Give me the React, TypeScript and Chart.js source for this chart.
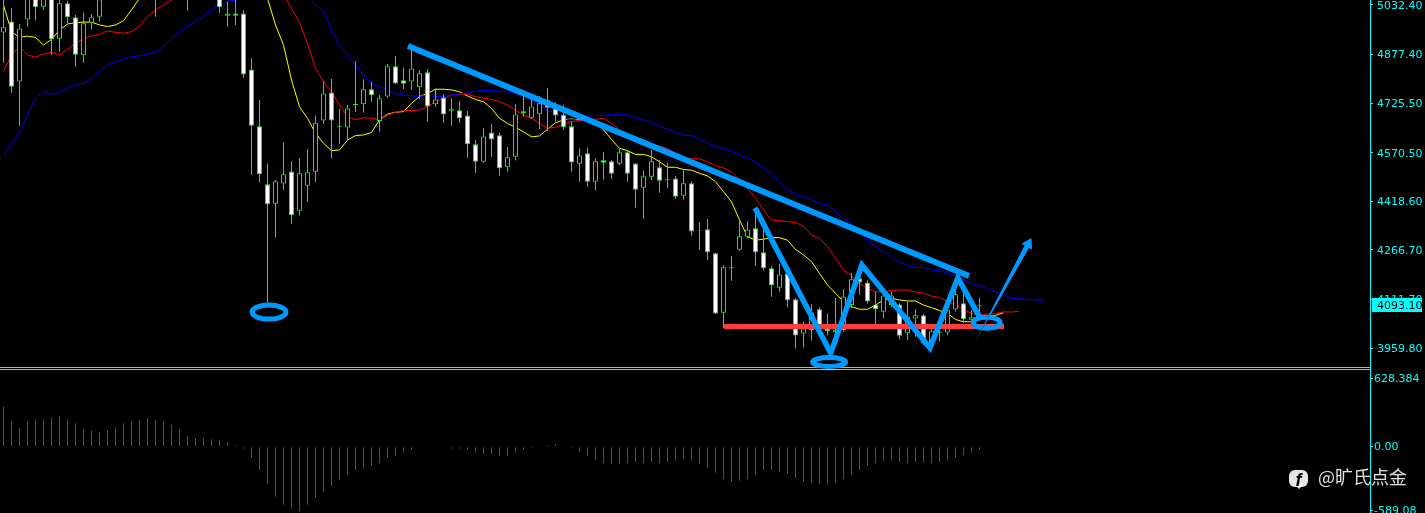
import React, { useEffect, useRef } from "react";
import { Chart, registerables } from "chart.js";

Chart.register(...registerables);

const opens = [4946,4981,4793,4987,5090,5027,5120,4927,5038,4994,4875,4977,4996,5080,5130,5100,5135,5100,5150,5110,5060,5120,5095,5090,5100,5130,5095,5080,4999,5006,5006,4831,4653,4472,4411,4474,4512,4389,4467,4511,4671,4759,4652,4649,4720,4722,4769,4670,4746,4841,4797,4793,4775,4822,4722,4743,4702,4703,4687,4597,4542,4634,4625,4525,4558,4694,4680,4691,4736,4709,4689,4653,4536,4569,4480,4547,4544,4536,4572,4537,4461,4495,4525,4486,4490,4436,4475,4327,4331,4256,4070,4211,4267,4308,4334,4259,4209,4148,4193,4112,4005,4016,4081,4021,4011,4016,4094,4178,4165,4096,4073,4094,4096,4006,4052,4062,3974,4007,4008,4080,4100,4048,4092];
const closes = [4963,4777,4959,5090,5025,5075,4925,5038,4994,4877,4975,4994,5050,5130,5100,5135,5100,5150,5110,5060,5120,5095,5130,5065,5130,5095,5110,5025,5006,4999,4815,4655,4503,4409,4481,4503,4375,4506,4509,4664,4756,4671,4654,4709,4723,4769,4750,4741,4841,4787,4786,4834,4819,4715,4737,4690,4706,4678,4597,4542,4621,4612,4522,4556,4690,4700,4715,4725,4711,4687,4650,4540,4562,4480,4544,4539,4505,4572,4505,4455,4497,4544,4483,4488,4433,4475,4324,4329,4259,4068,4212,4213,4309,4330,4259,4209,4156,4190,4109,3999,4021,4071,4032,4012,4016,4121,4175,4165,4105,4081,4124,4124,3998,4058,4062,3974,4012,4009,4078,4128,4050,4056,4094];
const highs = [5070,5022,4973,5110,5120,5090,5135,5060,5046,5001,5009,5004,5080,5145,5145,5150,5150,5165,5165,5130,5135,5135,5145,5110,5145,5145,5125,5100,5043,5048,5017,4866,4735,4537,4485,4603,4544,4554,4582,4687,4795,4801,4707,4720,4857,4800,4793,4751,4848,4873,4837,4892,4829,4832,4772,4753,4741,4732,4701,4610,4647,4660,4634,4588,4722,4767,4737,4748,4772,4728,4719,4668,4584,4587,4553,4572,4548,4581,4579,4537,4515,4579,4548,4540,4498,4516,4481,4354,4363,4258,4219,4247,4362,4356,4391,4329,4216,4223,4198,4115,4042,4097,4087,4068,4117,4144,4195,4204,4172,4136,4133,4136,4100,4105,4081,4066,4027,4037,4094,4141,4131,4079,4117];
const lows = [4852,4758,4654,4965,4985,5017,4876,4886,4975,4840,4852,4956,4980,5070,5085,5085,5085,5085,5095,4996,5052,5080,5080,5015,5085,5080,5080,5008,4965,4970,4804,4501,4477,4102,4305,4454,4349,4373,4416,4479,4660,4552,4598,4608,4698,4696,4730,4636,4743,4787,4770,4767,4737,4668,4714,4664,4655,4664,4555,4508,4539,4558,4499,4511,4546,4683,4676,4645,4638,4668,4642,4511,4480,4464,4452,4486,4488,4532,4480,4399,4364,4485,4445,4460,4426,4423,4311,4266,4235,4066,4023,4170,4264,4303,4216,4202,4120,4136,4087,3958,3961,3983,4011,4000,4006,4011,4084,4126,4099,4032,4053,4089,3987,3985,3995,3969,3969,3980,4000,4073,4039,4037,4063];

const maFast = [5032,4949,4931,4935,4931,4907,4925,4954,4973,4977,4979,4979,4970,4965,4970,4983,5017,5053,5090,5125,5150,5170,5185,5190,5190,5185,5180,5170,5150,5130,5110,5090,5070,5053,4970,4907,4798,4714,4678,4631,4600,4577,4579,4610,4624,4626,4634,4673,4691,4697,4699,4725,4746,4756,4769,4769,4767,4761,4748,4737,4730,4709,4678,4662,4650,4636,4620,4623,4644,4664,4673,4676,4673,4673,4668,4642,4612,4584,4577,4565,4565,4558,4542,4525,4525,4518,4516,4506,4498,4480,4449,4417,4360,4308,4297,4300,4305,4305,4297,4268,4251,4230,4193,4157,4131,4105,4089,4081,4081,4094,4110,4115,4110,4107,4107,4094,4086,4077,4068,4049,4042,4042,4053,4060,4062,4070];
const maMid = [4824,4876,4902,4876,4869,4879,4885,4876,4894,4912,4928,4936,4941,4951,4947,4944,4949,4967,4996,5017,5032,5048,5060,5070,5080,5090,5100,5110,5120,5130,5135,5130,5115,5095,5080,5064,5022,4977,4912,4834,4793,4761,4720,4683,4673,4680,4678,4673,4688,4697,4702,4702,4704,4714,4730,4741,4751,4754,4753,4746,4741,4737,4730,4720,4704,4688,4678,4662,4647,4650,4660,4668,4671,4673,4675,4678,4662,4642,4626,4612,4602,4595,4591,4584,4569,4553,4553,4551,4542,4530,4523,4510,4485,4460,4428,4391,4360,4358,4355,4352,4341,4313,4303,4277,4240,4204,4185,4162,4146,4136,4136,4139,4141,4141,4135,4131,4122,4118,4105,4094,4081,4068,4063,4066,4068,4073,4072,4075];
const maSlow = [4563,4595,4636,4688,4741,4763,4753,4759,4772,4785,4787,4803,4824,4845,4855,4864,4871,4874,4879,4886,4902,4928,4949,4965,4980,4996,5017,5032,5043,5048,5055,5062,5070,5078,5085,5090,5090,5085,5064,5032,5012,4954,4905,4876,4845,4813,4787,4777,4767,4756,4751,4748,4746,4751,4746,4746,4751,4754,4758,4763,4765,4765,4763,4761,4756,4751,4735,4720,4704,4694,4678,4673,4678,4685,4687,4688,4689,4689,4689,4681,4673,4665,4654,4644,4634,4626,4623,4615,4600,4591,4582,4576,4563,4554,4541,4523,4507,4479,4454,4441,4433,4423,4412,4407,4386,4365,4350,4324,4298,4277,4261,4245,4228,4217,4212,4212,4204,4201,4193,4185,4173,4162,4154,4146,4136,4126,4115,4114,4112,4110,4109];

const macd = [367,238,173,229,253,254,266,284,253,216,161,146,134,152,180,216,229,244,262,244,229,198,161,97,78,77,69,60,41,14,-23,-106,-216,-345,-465,-539,-576,-594,-539,-474,-419,-364,-309,-262,-216,-207,-180,-152,-106,-87,-60,-32,0,0,0,-5,-23,-24,-32,-60,-69,-70,-87,-88,-60,-32,-14,0,14,23,3,-14,-51,-87,-124,-152,-163,-161,-152,-143,-152,-143,-152,-143,-134,-115,-134,-161,-198,-244,-299,-327,-318,-299,-262,-217,-216,-235,-253,-290,-327,-336,-345,-355,-336,-299,-262,-216,-180,-152,-136,-134,-143,-152,-143,-146,-152,-143,-134,-106,-78,-60,-32];

const priceTicks = [5032.4, 4877.4, 4725.5, 4570.5, 4418.6, 4266.7, 4111.7, 3959.8];
const macdTicks = [628.384, 0, -589.08];
const macdTickLabels = ["628.384", "0.00", "-589.08"];
const lastPrice = 4093.1;

const trendLine = [{ x: 50.56, y: 4904 }, { x: 120.69, y: 4185 }];
const zigzag = [
  { x: 93.94, y: 4398 }, { x: 103.4, y: 3944 }, { x: 107.3, y: 4219 },
  { x: 115.8, y: 3960 }, { x: 119.3, y: 4179 }, { x: 122.06, y: 4054 },
];
const supportLine = [{ x: 90.06, y: 4027 }, { x: 125.06, y: 4027 }];
const ellipseCentres = [
  { x: 33.19, y: 4072, rx: 17, ry: 7 },
  { x: 103.2, y: 3916, rx: 16.5, ry: 4.5 },
  { x: 122.9, y: 4039, rx: 13.5, ry: 5.5 },
];
const arrowTail = { x: 121.3, y: 3972 };
const arrowTip = { x: 128.5, y: 4304 };

const W = 1425;
const H = 513;
const AXIS_W = 55;
const PANE_TOP = 369;
const PRICE_MAX = 5048;
const PRICE_MIN = 5048 - 3.127 * PANE_TOP;
const MACD_MAX = (446.5 - PANE_TOP) * 9.22;
const MACD_MIN = (446.5 - H) * 9.22;
const CYAN = "#00ffff";
const GREEN = "#00ff00";
const BLUE = "#0099ff";
const AXIS_FONT = { family: "'DejaVu Sans'", size: 11 };

const overlay = {
  id: "overlay",
  afterDatasetsDraw(chart: any) {
    const { ctx, scales, chartArea } = chart;
    const sx = scales.x;
    const sy = scales.y;
    ctx.save();
    ctx.fillStyle = CYAN;
    ctx.fillRect(0, 367, chartArea.right, 1);
    ctx.fillRect(0, 369, chartArea.right, 1);
    ctx.strokeStyle = BLUE;
    ctx.lineWidth = 5;
    for (const e of ellipseCentres) {
      ctx.beginPath();
      ctx.ellipse(sx.getPixelForValue(e.x), sy.getPixelForValue(e.y), e.rx, e.ry, 0, 0, Math.PI * 2);
      ctx.stroke();
    }
    const tx = sx.getPixelForValue(arrowTail.x);
    const ty = sy.getPixelForValue(arrowTail.y);
    const hx = sx.getPixelForValue(arrowTip.x);
    const hy = sy.getPixelForValue(arrowTip.y);
    const len = Math.hypot(hx - tx, hy - ty);
    const ux = (hx - tx) / len;
    const uy = (hy - ty) / len;
    const nx = -uy;
    const ny = ux;
    const grad = ctx.createLinearGradient(tx, ty, hx, hy);
    grad.addColorStop(0, "#123a5c");
    grad.addColorStop(0.3, BLUE);
    ctx.fillStyle = grad;
    const neck = len - 10;
    ctx.beginPath();
    ctx.moveTo(tx, ty);
    ctx.lineTo(tx + ux * neck + nx * 2.5, ty + uy * neck + ny * 2.5);
    ctx.lineTo(tx + ux * neck + nx * 6, ty + uy * neck + ny * 6);
    ctx.lineTo(hx, hy);
    ctx.lineTo(tx + ux * neck - nx * 6, ty + uy * neck - ny * 6);
    ctx.lineTo(tx + ux * neck - nx * 2.5, ty + uy * neck - ny * 2.5);
    ctx.closePath();
    ctx.fill();
    ctx.restore();
  },
  afterDraw(chart: any) {
    const { ctx, scales } = chart;
    const py = Math.round(scales.y.getPixelForValue(lastPrice));
    ctx.save();
    ctx.fillStyle = CYAN;
    ctx.fillRect(1372, py - 7, 50, 14);
    ctx.fillStyle = "#000";
    ctx.font = "11px 'DejaVu Sans'";
    ctx.textAlign = "left";
    ctx.textBaseline = "middle";
    ctx.fillText(lastPrice.toFixed(2), 1377, py + 1);

    ctx.globalAlpha = 0.9;
    ctx.fillStyle = "#ffffff";
    ctx.beginPath();
    ctx.roundRect(1289, 470, 19, 17, 6);
    ctx.fill();
    ctx.beginPath();
    ctx.moveTo(1295, 485);
    ctx.lineTo(1299, 489);
    ctx.lineTo(1303, 485);
    ctx.fill();
    ctx.globalAlpha = 1;
    ctx.fillStyle = "#000";
    ctx.font = "italic bold 18px 'Liberation Sans'";
    ctx.textAlign = "center";
    ctx.textBaseline = "middle";
    ctx.fillText("f", 1298.5, 481);
    ctx.globalAlpha = 0.88;
    ctx.fillStyle = "#ffffff";
    ctx.font = "18px 'Noto Sans CJK SC'";
    ctx.textAlign = "left";
    ctx.fillText("@旷氏点金", 1318, 477);
    ctx.restore();
  },
};

const line = (data: any[], color: string, width: number, order: number, yAxisID = "y") => ({
  type: "line",
  data,
  yAxisID,
  xAxisID: "x",
  borderColor: color,
  borderWidth: width,
  pointRadius: 0,
  tension: 0,
  fill: false,
  order,
});

const series = (values: number[]) => values.map((y, x) => ({ x, y }));

const noPadding = (scale: any) => {
  scale.width = AXIS_W;
  scale.paddingTop = 0;
  scale.paddingBottom = 0;
};

export default function App() {
  const ref = useRef<HTMLCanvasElement>(null);

  useEffect(() => {
    document.body.style.margin = "0";
    document.body.style.background = "#000";
    const isBear = closes.map((c, i) => c < opens[i]);
    const macdColors = macd.map((v, i) => (i > 0 && v > macd[i - 1] ? "#0a7d0a" : "#e80e0e"));
    const chart = new Chart(ref.current as HTMLCanvasElement, {
      type: "bar",
      data: {
        datasets: [
          {
            type: "bar",
            data: macd.map((y, x) => ({ x, y })),
            yAxisID: "y2",
            xAxisID: "x",
            backgroundColor: macdColors,
            barThickness: 1,
            inflateAmount: 0,
            grouped: false,
            order: 9,
          },
          line(series(maSlow), "#0000ff", 1, 8),
          line(series(maMid), "#ff0000", 1, 8),
          line(series(maFast), "#ffff00", 1, 8),
          {
            type: "bar",
            data: lows.map((l, x) => ({ x, y: [l, highs[x]] })),
            yAxisID: "y",
            xAxisID: "x",
            backgroundColor: GREEN,
            barThickness: 1,
            inflateAmount: 0,
            grouped: false,
            order: 6,
          },
          {
            type: "bar",
            data: opens.map((o, x) => ({ x, y: [o, closes[x]] })),
            yAxisID: "y",
            xAxisID: "x",
            backgroundColor: isBear.map((b) => (b ? "#ffffff" : "#000000")),
            borderColor: GREEN,
            borderWidth: 1,
            borderSkipped: false,
            barThickness: 5,
            inflateAmount: 0,
            grouped: false,
            order: 5,
          },
          line(supportLine, "#ff3b3b", 5, 3),
          line(trendLine, BLUE, 6, 2),
          line(zigzag, BLUE, 5.5, 2),
        ] as any,
      },
      options: {
        responsive: false,
        animation: false,
        devicePixelRatio: 1,
        layout: { padding: 0 },
        parsing: undefined,
        plugins: { legend: { display: false }, tooltip: { enabled: false } },
        scales: {
          x: {
            type: "linear",
            display: false,
            offset: false,
            min: -3.5 / 8,
            max: (W - AXIS_W - 3.5) / 8,
          },
          y: {
            type: "linear",
            position: "right",
            stack: "panes",
            stackWeight: PANE_TOP,
            min: PRICE_MIN,
            max: PRICE_MAX,
            afterBuildTicks: (s: any) => {
              s.ticks = priceTicks.map((value) => ({ value }));
            },
            afterFit: noPadding,
            border: { color: CYAN, width: 1 },
            grid: { drawOnChartArea: false, drawTicks: true, tickLength: 3, color: CYAN },
            ticks: {
              color: CYAN,
              font: AXIS_FONT,
              padding: 4,
              labelOffset: 1,
              autoSkip: false,
              maxRotation: 0,
              callback: (v: any) => Number(v).toFixed(2),
            },
          },
          y2: {
            type: "linear",
            position: "right",
            stack: "panes",
            stackWeight: H - PANE_TOP,
            min: MACD_MIN,
            max: MACD_MAX,
            afterBuildTicks: (s: any) => {
              s.ticks = macdTicks.map((value) => ({ value }));
            },
            afterFit: noPadding,
            border: { color: CYAN, width: 1 },
            grid: { drawOnChartArea: false, drawTicks: true, tickLength: 3, color: CYAN },
            ticks: {
              color: CYAN,
              font: AXIS_FONT,
              padding: 1,
              labelOffset: 1,
              autoSkip: false,
              maxRotation: 0,
              callback: (v: any) => macdTickLabels[macdTicks.indexOf(Number(v))] ?? "",
            },
          },
        },
      } as any,
      plugins: [overlay],
    } as any);
    return () => chart.destroy();
  }, []);

  return (
    <div style={{ position: "fixed", left: 0, top: 0, width: W, height: H, background: "#000" }}>
      <canvas ref={ref} width={W} height={H} style={{ display: "block", width: W, height: H }} />
    </div>
  );
}
